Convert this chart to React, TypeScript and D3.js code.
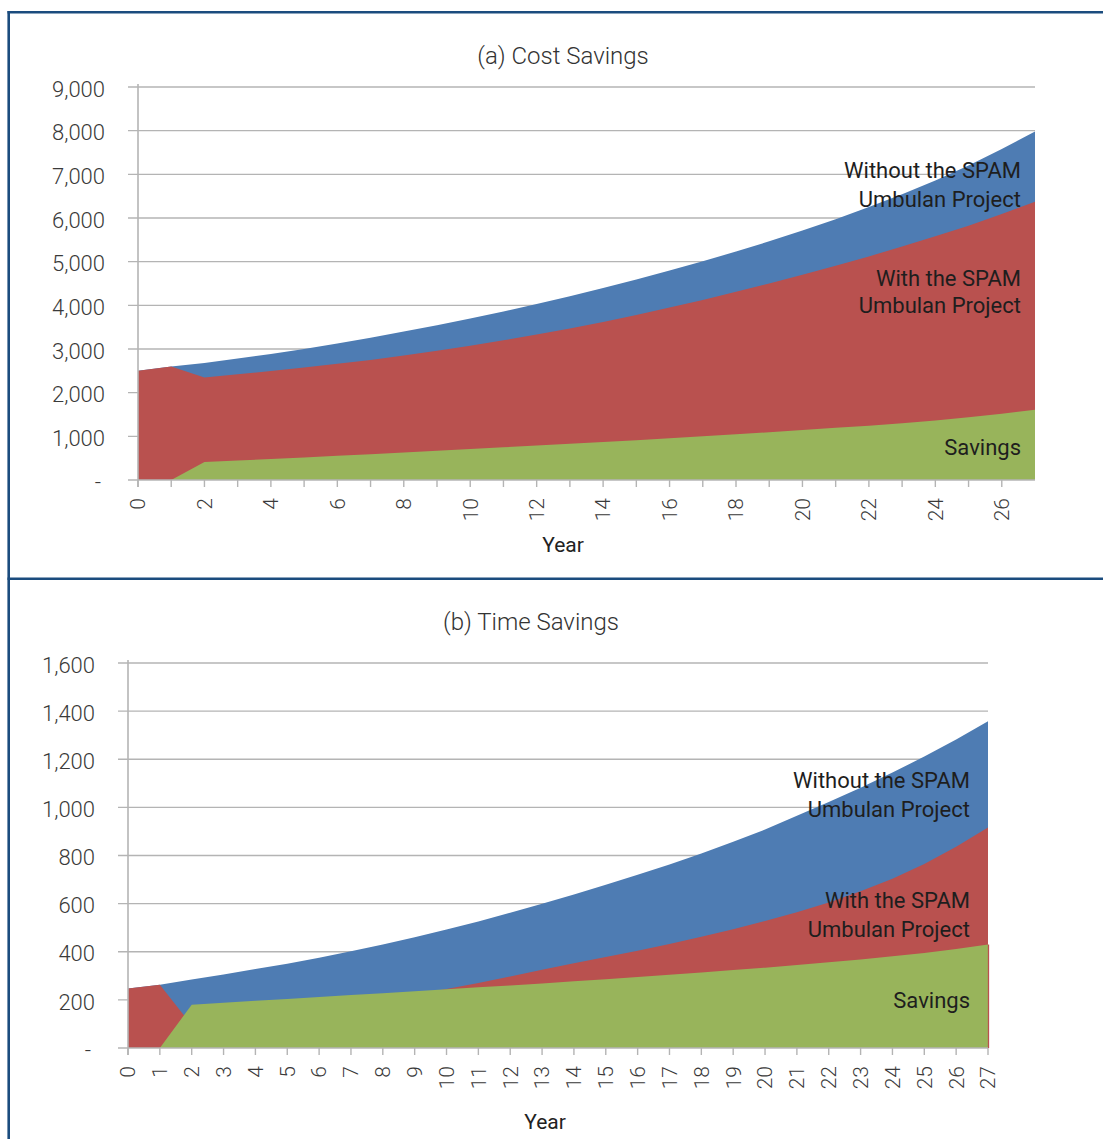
import React from "react";
import * as d3 from "d3";

const years = [0, 1, 2, 3, 4, 5, 6, 7, 8, 9, 10, 11, 12, 13, 14, 15, 16, 17, 18, 19, 20, 21, 22, 23, 24, 25, 26, 27];

// (a) cost savings
const costWithout = [2500, 2600, 2680, 2780, 2885, 3000, 3125, 3258, 3398, 3545, 3698, 3857, 4030, 4208, 4395, 4590, 4795, 5010, 5232, 5467, 5712, 5970, 6250, 6545, 6860, 7200, 7580, 7980];
const costWith = [2500, 2600, 2350, 2420, 2495, 2575, 2660, 2750, 2850, 2960, 3075, 3200, 3330, 3470, 3620, 3780, 3950, 4125, 4310, 4500, 4700, 4905, 5120, 5345, 5580, 5825, 6090, 6370];
const costSavings = [0, 0, 412, 445, 480, 515, 555, 590, 630, 670, 710, 750, 790, 830, 870, 910, 955, 1000, 1045, 1095, 1145, 1195, 1245, 1300, 1365, 1435, 1520, 1610];
const costTicks = [0, 1000, 2000, 3000, 4000, 5000, 6000, 7000, 8000, 9000];

// (b) time savings
const timeWithout = [247, 263, 285, 305, 328, 350, 375, 402, 430, 460, 492, 526, 562, 600, 638, 678, 720, 763, 808, 857, 908, 965, 1022, 1082, 1145, 1211, 1282, 1358];
const timeWith = [247, 263, 95, 110, 125, 142, 160, 180, 200, 222, 245, 270, 297, 325, 352, 378, 404, 432, 462, 494, 528, 564, 605, 651, 703, 765, 836, 916];
const timeSavings = [0, 0, 180, 188, 196, 204, 212, 220, 228, 236, 244, 252, 260, 268, 277, 286, 295, 304, 314, 324, 334, 345, 356, 368, 381, 395, 411, 430];
const timeTicks = [0, 200, 400, 600, 800, 1000, 1200, 1400, 1600];

const BLUE = "#4e7cb3";
const RED = "#b9514f";
const GREEN = "#98b45b";
const GRID = "#b4b4b4";
const FONT = "Roboto, 'DejaVu Sans', sans-serif";

function Panel({ title, without, withP, savings, yTicks, box, labelEvery, lastTick, edgeLine, titlePos, yearPos, notesX, notes }) {
    const x = d3.scaleLinear().domain([0, 27]).range([box.left, box.right]);
    const y = d3.scaleLinear().domain([0, yTicks[yTicks.length - 1]]).range([box.bottom, box.top]);

    const area = d3.area()
        .x((d) => x(d[0]))
        .y0(y(0))
        .y1((d) => y(d[1]));

    // overlapping (not stacked) areas, back to front
    const series = [
        { vals: without, color: BLUE },
        { vals: withP, color: RED },
        { vals: savings, color: GREEN },
    ];

    const fmt = d3.format(",");
    const tickYears = lastTick ? years : years.slice(0, -1);
    const last = years.length - 1;

    return (
        <g>
            <text x={titlePos[0]} y={titlePos[1]} textAnchor="middle" fontSize={24} fontWeight={300} fill="#333">{title}</text>

            {/* gridlines + y labels */}
            {yTicks.map((t) => (
                <g key={t}>
                    {t > 0 && <line x1={box.left - 10} x2={box.right} y1={y(t)} y2={y(t)} stroke={GRID} strokeWidth={1.4} />}
                    <text x={t === 0 ? box.left - 37 : box.left - 33} y={y(t) + 2} dy="0.35em" textAnchor="end" fontSize={22} fontWeight={300} fill="#3a3a3a">
                        {t === 0 ? "-" : fmt(t)}
                    </text>
                </g>
            ))}

            {series.map((s, i) => (
                <path key={i} d={area(years.map((yr, j) => [yr, s.vals[j]]))} fill={s.color} />
            ))}
            {edgeLine && (
                <line x1={x(27) + 0.5} x2={x(27) + 0.5} y1={y(0)} y2={y(savings[last])} stroke={RED} strokeWidth={1.3} />
            )}

            {/* axes */}
            <line x1={box.left - 10} x2={box.right} y1={y(0)} y2={y(0)} stroke={GRID} strokeWidth={1.6} />
            <line x1={box.left} x2={box.left} y1={box.top - 3} y2={y(0) + 7} stroke={GRID} strokeWidth={1.6} />
            {tickYears.map((yr) => (
                <line key={yr} x1={x(yr)} x2={x(yr)} y1={y(0)} y2={y(0) + 7} stroke={GRID} strokeWidth={1.4} />
            ))}
            {years.filter((yr) => yr % labelEvery === 0).map((yr) => (
                <text key={yr} transform={`translate(${x(yr)},${y(0) + 18}) rotate(-90)`} dy="0.35em" textAnchor="end" fontSize={21} fontWeight={300} fill="#3a3a3a">
                    {yr}
                </text>
            ))}
            <text x={yearPos[0]} y={yearPos[1]} textAnchor="middle" fontSize={21} fill="#222">Year</text>

            {notes.map((n, i) => (
                <text key={i} x={notesX} y={n.y} textAnchor="end" fontSize={22} fill="#1e1e1e">{n.text}</text>
            ))}
        </g>
    );
}

export default function App() {
    return (
        <svg width={1103} height={1139} style={{ position: "absolute", left: 0, top: 0, background: "#fff" }} fontFamily={FONT}>
            <rect x={0} y={0} width={1103} height={1139} fill="#fff" />
            {/* frame */}
            <line x1={7.5} x2={1103} y1={12.2} y2={12.2} stroke="#1b4c7e" strokeWidth={2.4} />
            <line x1={8.7} x2={8.7} y1={11} y2={1139} stroke="#1b4c7e" strokeWidth={2.6} />
            <line x1={7.5} x2={1103} y1={578.8} y2={578.8} stroke="#1b4c7e" strokeWidth={2.4} />

            <Panel
                title="(a) Cost Savings"
                without={costWithout}
                withP={costWith}
                savings={costSavings}
                yTicks={costTicks}
                box={{ left: 138, right: 1035, top: 87, bottom: 480 }}
                labelEvery={2}
                lastTick={false}
                edgeLine={false}
                titlePos={[563, 64]}
                yearPos={[563, 552]}
                notesX={1021}
                notes={[
                    { text: "Without the SPAM", y: 178 },
                    { text: "Umbulan Project", y: 207 },
                    { text: "With the SPAM", y: 286 },
                    { text: "Umbulan Project", y: 313 },
                    { text: "Savings", y: 455 },
                ]}
            />
            <Panel
                title="(b) Time Savings"
                without={timeWithout}
                withP={timeWith}
                savings={timeSavings}
                yTicks={timeTicks}
                box={{ left: 128, right: 988, top: 663, bottom: 1048 }}
                labelEvery={1}
                lastTick={true}
                edgeLine={true}
                titlePos={[531, 630]}
                yearPos={[545, 1129]}
                notesX={970}
                notes={[
                    { text: "Without the SPAM", y: 788 },
                    { text: "Umbulan Project", y: 817 },
                    { text: "With the SPAM", y: 908 },
                    { text: "Umbulan Project", y: 937 },
                    { text: "Savings", y: 1008 },
                ]}
            />
        </svg>
    );
}
